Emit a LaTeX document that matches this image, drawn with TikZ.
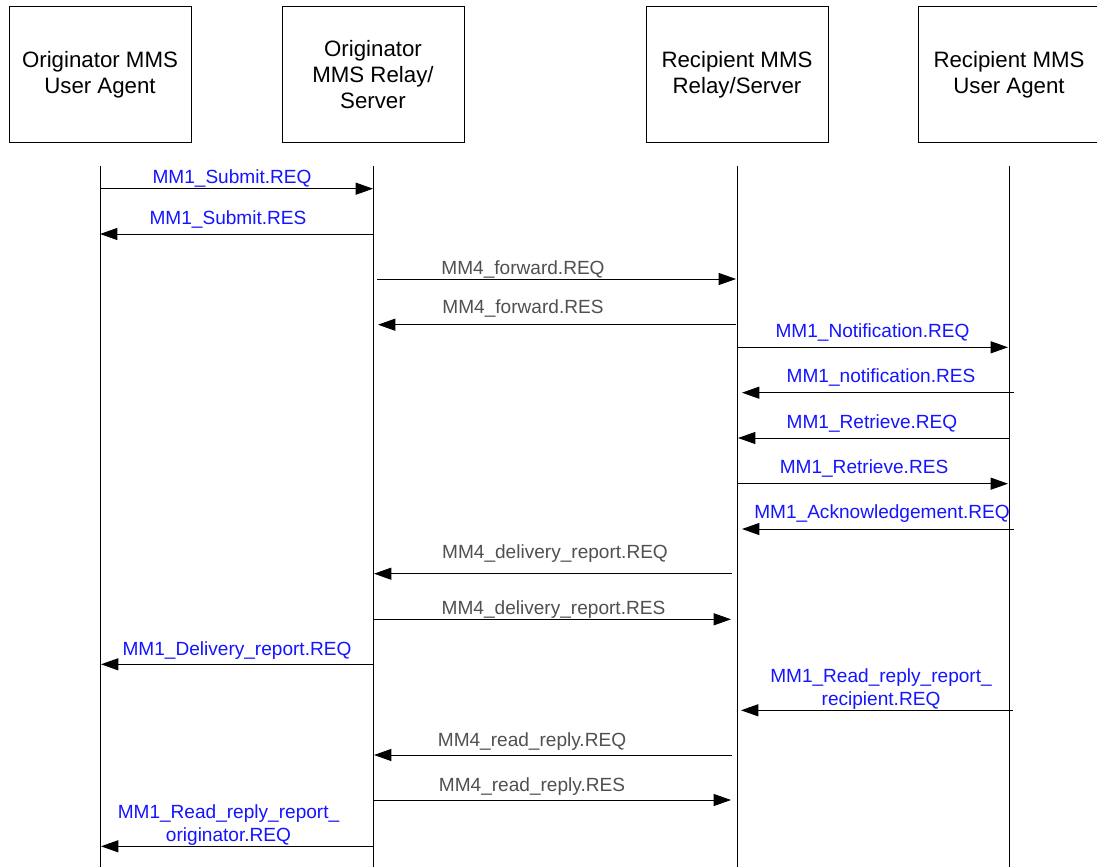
\documentclass[tikz,border=0pt]{standalone}
\usepackage{fontspec}
\setmainfont{Liberation Sans}
\usetikzlibrary{arrows.meta, positioning}
\usepackage{xcolor}
\definecolor{mmblue}{RGB}{20,20,255}
\definecolor{mmgray}{RGB}{80,80,80}
\def\boxwidth{182}

\begin{document}
\begin{tikzpicture}[x=0.75pt, y=-0.75pt, line width=0.75pt]
    \tikzstyle{actor}=[draw=black, minimum width=\boxwidth*0.75pt, minimum height=136*0.75pt, inner sep=0pt, align=center, font=\fontsize{16.7}{19.5}\selectfont]
    \tikzstyle{life}=[draw=black]
    \tikzstyle{msg}=[-{Triangle[length=13pt, width=9pt]}, draw=black]
    \tikzstyle{lbl}=[anchor=base, inner sep=0pt, align=center, font=\fontsize{14.3}{17.25}\selectfont]
    \tikzstyle{mm1}=[lbl, text=mmblue]
    \tikzstyle{mm4}=[lbl, text=mmgray]

    \useasboundingbox (0,0) rectangle (1097,867);

    % Draw the four parties
    \foreach \name / \x / \txt in {oua/100/{Originator MMS\\User Agent},
                                   ors/373/{Originator\\MMS Relay/\\Server},
                                   rrs/737/{Recipient MMS\\Relay/Server},
                                   rua/1009/{Recipient MMS\\User Agent}}
        \node[actor] (\name) at (\x,75) {\txt};

    % Draw the lifelines below the parties
    \foreach \name in {oua,ors,rrs,rua}
    {
        \coordinate (\name-top) at (\name.south |- 0,166);
        \coordinate (\name-end) at (\name.south |- 0,867);
        \draw[life] (\name-top) -- (\name-end);
    }

    % MM1 messages (user agent <-> relay/server)
    \foreach \i / \xa / \xb / \y / \lx / \ly / \txt in {
            1/100/373/188.7/232/183/{MM1\_Submit.REQ},
            2/373/100/234/228/224/{MM1\_Submit.RES},
            5/737/1008/347.3/872.5/337/{MM1\_Notification.REQ},
            6/1014/742/392.7/881/382/{MM1\_notification.RES},
            7/1009/738/438/872/428/{MM1\_Retrieve.REQ},
            8/737/1008/483.7/864/473/{MM1\_Retrieve.RES},
            9/1014/742/529/882/518/{MM1\_Acknowledgement.REQ},
            12/373/101/664.3/237/655/{MM1\_Delivery\_report.REQ},
            13/1013/741/710.3/881/705/{MM1\_Read\_reply\_report\_\\recipient.REQ},
            16/373/101/846.3/228.5/841/{MM1\_Read\_reply\_report\_\\originator.REQ}}
    {
        \coordinate (m\i-a) at (\xa,\y);
        \coordinate (m\i-b) at (\xb,\y);
        \draw[msg] (m\i-a) -- (m\i-b);
        \node[mm1] (l\i) at (\lx,\ly) {\txt};
    }

    % MM4 messages (relay/server <-> relay/server)
    \foreach \i / \xa / \xb / \y / \lx / \ly / \txt in {
            3/377/736/279/523/274/{MM4\_forward.REQ},
            4/736/378/324.7/523/313/{MM4\_forward.RES},
            10/732/374/573.7/555/558/{MM4\_delivery\_report.REQ},
            11/374/731/619.3/553.5/614/{MM4\_delivery\_report.RES},
            14/732/374/755/532/746/{MM4\_read\_reply.REQ},
            15/374/731/800/532/791/{MM4\_read\_reply.RES}}
    {
        \coordinate (m\i-a) at (\xa,\y);
        \coordinate (m\i-b) at (\xb,\y);
        \draw[msg] (m\i-a) -- (m\i-b);
        \node[mm4] (l\i) at (\lx,\ly) {\txt};
    }
\end{tikzpicture}
\end{document}
